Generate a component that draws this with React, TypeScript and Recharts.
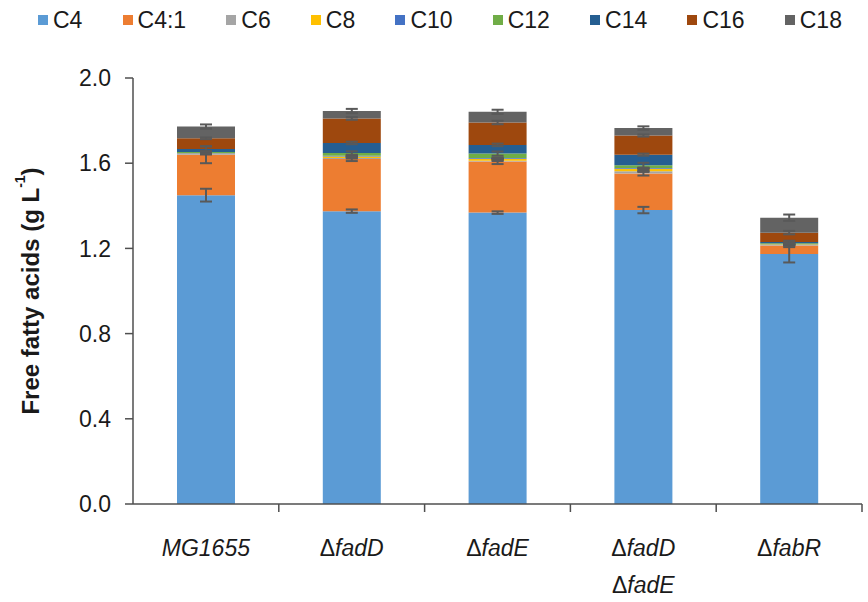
import React from 'react';
import { BarChart, Bar, XAxis, YAxis, Legend, ErrorBar, Label } from 'recharts';

// strains on the x axis ("\n" breaks a label over two lines)
const categories = ['MG1655', 'ΔfadD', 'ΔfadE', 'ΔfadD\nΔfadE', 'ΔfabR'];

// free fatty acid titres (g/L) per chain length, stacked
const c4 = [1.45, 1.375, 1.368, 1.38, 1.174];
const c41 = [0.19, 0.245, 0.24, 0.172, 0.04];
const c6 = [0.003, 0.004, 0.004, 0.01, 0.002];
const c8 = [0.003, 0.008, 0.009, 0.012, 0.002];
const c10 = [0.002, 0.003, 0.003, 0.003, 0.002];
const c12 = [0.004, 0.013, 0.021, 0.013, 0.004];
const c14 = [0.015, 0.047, 0.041, 0.05, 0.006];
const c16 = [0.05, 0.115, 0.105, 0.09, 0.044];
const c18 = [0.055, 0.035, 0.05, 0.035, 0.07];

// standard deviations
const errC4 = [0.03, 0.008, 0.006, 0.015, 0.04];
const errC41 = [0.04, 0.01, 0.012, 0.01, 0.008];
const errC6 = [0.002, 0.002, 0.002, 0.003, 0.002];
const errC8 = [0.003, 0.003, 0.003, 0.003, 0.002];
const errC10 = [0.002, 0.002, 0.002, 0.002, 0.002];
const errC12 = [0.005, 0.008, 0.01, 0.012, 0.005];
const errC14 = [0.012, 0.006, 0.006, 0.005, 0.006];
const errC16 = [0.004, 0.006, 0.008, 0.005, 0.008];
const errC18 = [0.01, 0.01, 0.01, 0.008, 0.015];

const yTicks = [0, 0.4, 0.8, 1.2, 1.6, 2.0];

const series = [
    { key: 'c4', name: 'C4', color: '#5B9BD5', values: c4, err: errC4 },
    { key: 'c41', name: 'C4:1', color: '#ED7D31', values: c41, err: errC41 },
    { key: 'c6', name: 'C6', color: '#A5A5A5', values: c6, err: errC6 },
    { key: 'c8', name: 'C8', color: '#FFC000', values: c8, err: errC8 },
    { key: 'c10', name: 'C10', color: '#4472C4', values: c10, err: errC10 },
    { key: 'c12', name: 'C12', color: '#70AD47', values: c12, err: errC12 },
    { key: 'c14', name: 'C14', color: '#255E91', values: c14, err: errC14 },
    { key: 'c16', name: 'C16', color: '#9E480E', values: c16, err: errC16 },
    { key: 'c18', name: 'C18', color: '#636363', values: c18, err: errC18 },
];

const chartData = categories.map((name, i) => {
    const row: { [k: string]: string | number } = { name };
    series.forEach(s => {
        row[s.key] = s.values[i];
        row[s.key + 'Err'] = s.err[i];
    });
    return row;
});

const FONT = '"Liberation Sans", Arial, sans-serif';
const AXIS = '#4f4f4f';

const StrainLine = ({ text }) => {
    // delta stays upright, gene names are italic
    if (text.startsWith('Δ')) {
        return (
            <>
                <tspan fontStyle="normal">Δ</tspan>
                <tspan fontStyle="italic">{text.slice(1)}</tspan>
            </>
        );
    }
    return <tspan fontStyle="italic">{text}</tspan>;
};

// excel-style category axis: tick marks sit between the categories
const CategoryTick = ({ x, y, payload, index, visibleTicksCount }) => {
    const lines = String(payload.value).split('\n');
    const half = payload.offset || 72.9;
    const last = index === visibleTicksCount - 1;
    return (
        <g>
            {index > 0 && <line x1={x - half} x2={x - half} y1={y} y2={y + 8} stroke={AXIS} strokeWidth={1.5} />}
            {last && <line x1={x + half} x2={x + half} y1={y} y2={y + 8} stroke={AXIS} strokeWidth={1.5} />}
            <text x={x} y={y} textAnchor="middle" fontFamily={FONT} fontSize={23} fill="#1a1a1a">
                {lines.map((ln, i) => (
                    <tspan key={i} x={x} dy={i === 0 ? 52 : 37}>
                        <StrainLine text={ln} />
                    </tspan>
                ))}
            </text>
        </g>
    );
};

const YTitle = ({ viewBox }) => {
    const cx = viewBox.x + 30;
    const cy = viewBox.y + viewBox.height / 2;
    return (
        <text x={cx} y={cy} transform={`rotate(-90 ${cx} ${cy})`} textAnchor="middle" dominantBaseline="central"
            fontFamily={FONT} fontSize={24} fontWeight="bold" fill="#1a1a1a">
            Free fatty acids (g L<tspan fontSize={14} dy={-10}>-1</tspan><tspan dy={10}>)</tspan>
        </text>
    );
};

const LegendRow = () => (
    <div style={{ display: 'flex', justifyContent: 'space-between', alignItems: 'center', height: 40, padding: '0 26px 0 38px', fontFamily: FONT, fontSize: 23, color: '#1a1a1a' }}>
        {series.map(s => (
            <div key={s.key} style={{ display: 'flex', alignItems: 'center' }}>
                <span style={{ width: 10, height: 10, background: s.color, marginRight: 5, display: 'inline-block' }} />
                <span>{s.name}</span>
            </div>
        ))}
    </div>
);

export default function App() {
    return (
        <div style={{ position: 'absolute', left: 0, top: 0, width: 868, height: 602, background: '#fff' }}>
            <BarChart width={868} height={602} data={chartData} margin={{ top: 38, right: 6, left: 0, bottom: 8 }}>
                <Legend verticalAlign="top" align="left" content={<LegendRow />} wrapperStyle={{ left: 0, top: 0, width: 868, height: 40 }} />
                <XAxis dataKey="name" height={90} interval={0} tick={<CategoryTick />} tickLine={false} tickSize={0} tickMargin={0}
                    axisLine={{ stroke: AXIS, strokeWidth: 1.5 }} />
                <YAxis width={133} domain={[0, 2]} ticks={yTicks} tickFormatter={v => v.toFixed(1)} interval={0}
                    tickSize={8} tickMargin={14} tick={{ fontFamily: FONT, fontSize: 23, fill: '#1a1a1a' }}
                    axisLine={{ stroke: AXIS, strokeWidth: 1.5 }} tickLine={{ stroke: AXIS, strokeWidth: 1.5 }}>
                    <Label content={<YTitle />} />
                </YAxis>
                {series.map(s => (
                    <Bar key={s.key} dataKey={s.key} name={s.name} stackId="ffa" fill={s.color} barSize={58} isAnimationActive={false}>
                        <ErrorBar dataKey={s.key + 'Err'} width={6} stroke="#595959" strokeWidth={2} direction="y" />
                    </Bar>
                ))}
            </BarChart>
        </div>
    );
}
